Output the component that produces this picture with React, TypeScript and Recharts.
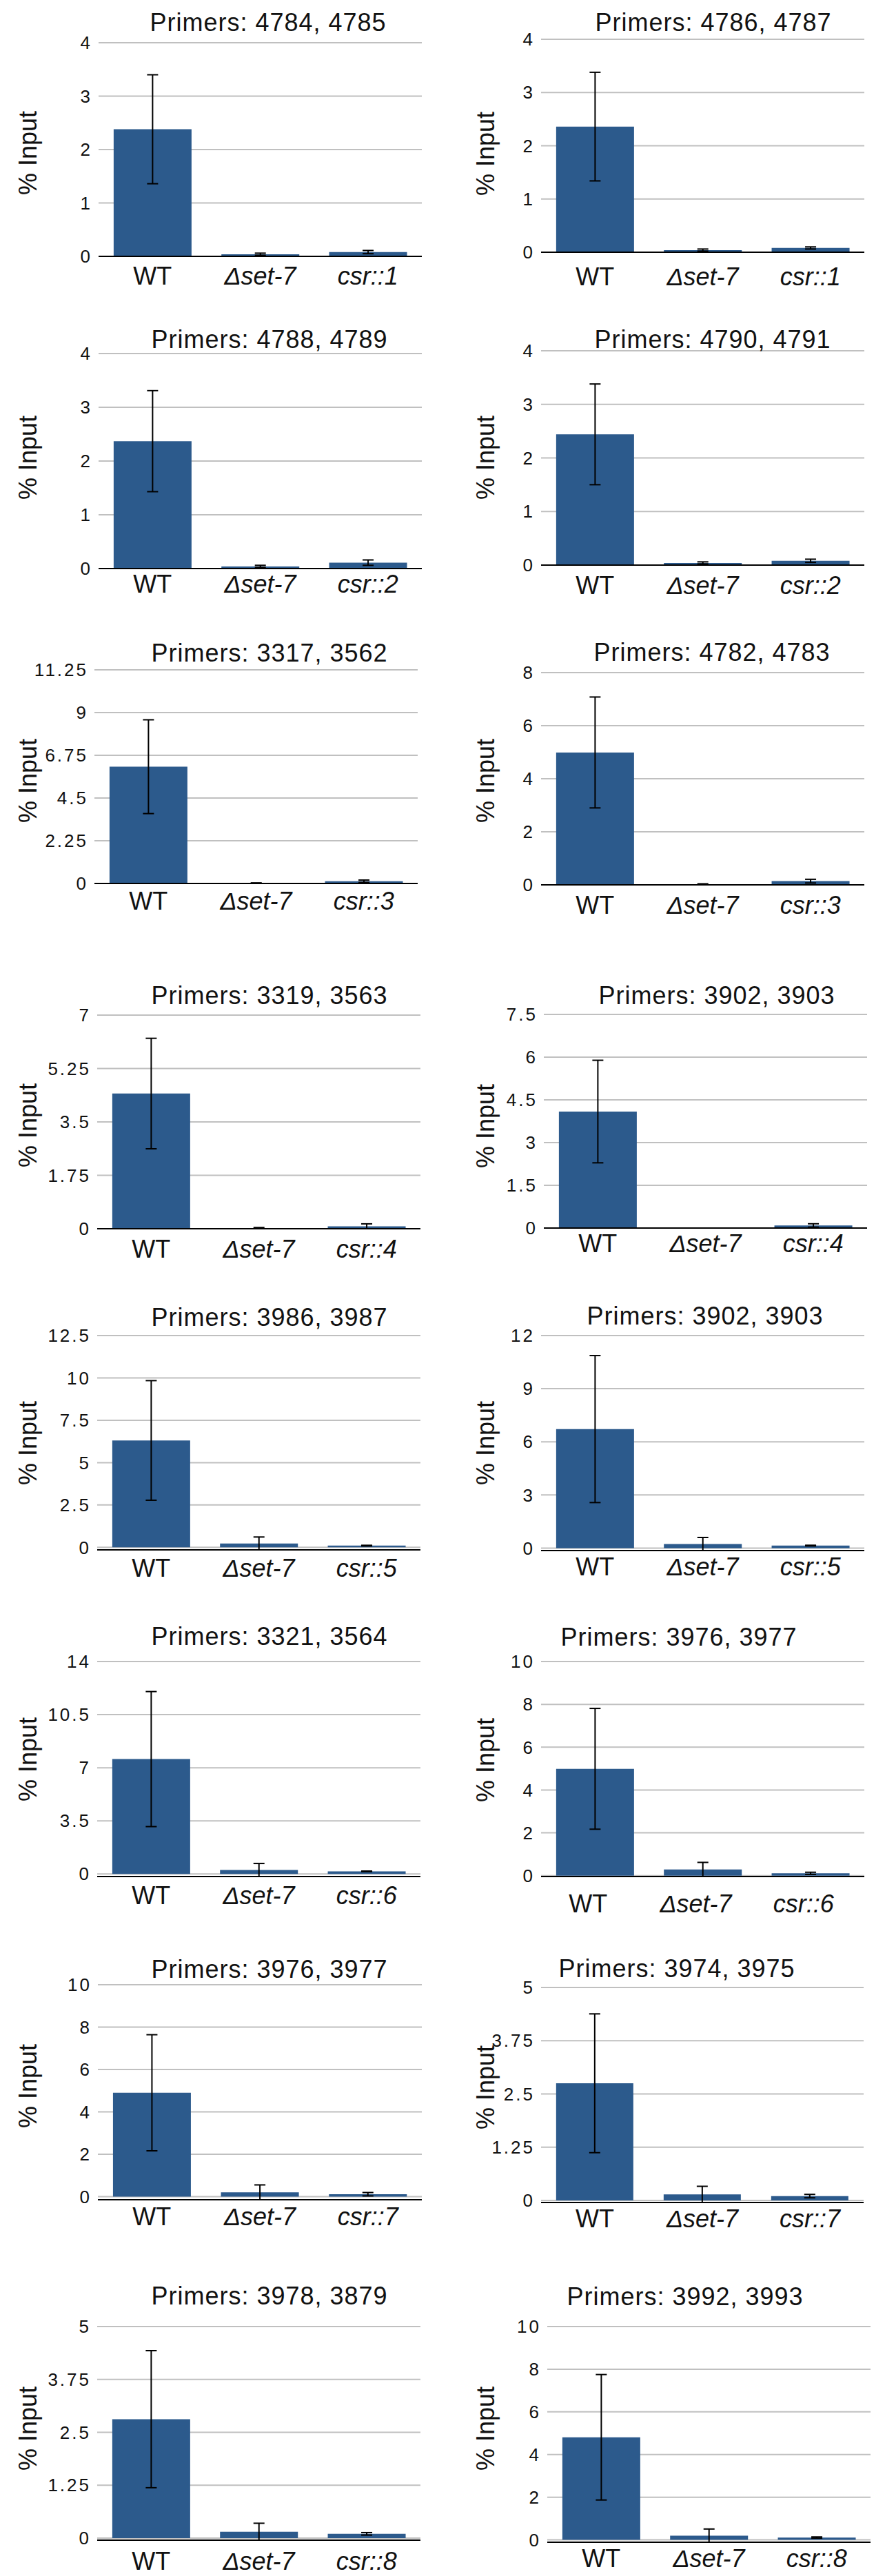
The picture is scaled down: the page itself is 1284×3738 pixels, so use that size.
import React from "react";
import { BarChart, Bar, XAxis, YAxis, CartesianGrid, ErrorBar } from "recharts";

// values, left-to-right, top-to-bottom
const TITLES = [
  "Primers: 4784, 4785", "Primers: 4786, 4787",
  "Primers: 4788, 4789", "Primers: 4790, 4791",
  "Primers: 3317, 3562", "Primers: 4782, 4783",
  "Primers: 3319, 3563", "Primers: 3902, 3903",
  "Primers: 3986, 3987", "Primers: 3902, 3903",
  "Primers: 3321, 3564", "Primers: 3976, 3977",
  "Primers: 3976, 3977", "Primers: 3974, 3975",
  "Primers: 3978, 3879", "Primers: 3992, 3993",
];
const CSR_LABELS = [
  "csr::1", "csr::1", "csr::2", "csr::2", "csr::3", "csr::3", "csr::4", "csr::4",
  "csr::5", "csr::5", "csr::6", "csr::6", "csr::7", "csr::7", "csr::8", "csr::8",
];
const WT = [2.38, 2.36, 2.37, 2.44, 6.15, 4.99, 4.43, 4.09, 6.31, 6.72, 7.57, 4.99, 4.9, 2.75, 2.81, 4.81];
const WT_ERR = [1.02, 1.02, 0.94, 0.94, 2.47, 2.09, 1.81, 1.8, 3.53, 4.15, 4.45, 2.82, 2.74, 1.63, 1.62, 2.94];
const SET7 = [0.04, 0.04, 0.04, 0.04, 0.02, 0.02, 0.02, 0.01, 0.23, 0.23, 0.26, 0.29, 0.2, 0.14, 0.15, 0.2];
const SET7_ERR = [0.02, 0.02, 0.02, 0.02, 0.01, 0.02, 0.02, 0, 0.38, 0.37, 0.43, 0.33, 0.35, 0.19, 0.2, 0.31];
const CSR = [0.08, 0.08, 0.11, 0.08, 0.12, 0.14, 0.08, 0.09, 0.1, 0.14, 0.17, 0.11, 0.11, 0.1, 0.1, 0.11];
const CSR_ERR = [0.03, 0.02, 0.05, 0.03, 0.06, 0.07, 0.08, 0.06, 0.02, 0.02, 0.02, 0.05, 0.08, 0.04, 0.03, 0.03];
const Y_TICKS = [
  [0, 1, 2, 3, 4], [0, 1, 2, 3, 4],
  [0, 1, 2, 3, 4], [0, 1, 2, 3, 4],
  [0, 2.25, 4.5, 6.75, 9, 11.25], [0, 2, 4, 6, 8],
  [0, 1.75, 3.5, 5.25, 7], [0, 1.5, 3, 4.5, 6, 7.5],
  [0, 2.5, 5, 7.5, 10, 12.5], [0, 3, 6, 9, 12],
  [0, 3.5, 7, 10.5, 14], [0, 2, 4, 6, 8, 10],
  [0, 2, 4, 6, 8, 10], [0, 1.25, 2.5, 3.75, 5],
  [0, 1.25, 2.5, 3.75, 5], [0, 2, 4, 6, 8, 10],
];

// where each panel sits on the page
const LAYOUT = [
  { col: 0, x0: 143, x1: 612, yTop: 62, yBase: 372, tx: 389, ty: 32, ly: 222, gap: 15, dx: 0 },
  { col: 642, x0: 785, x1: 1254, yTop: 57, yBase: 366, tx: 1035, ty: 32, ly: 223, gap: 22, dx: 0 },
  { col: 0, x0: 143, x1: 612, yTop: 513, yBase: 825, tx: 391, ty: 492, ly: 664, gap: 9, dx: 0 },
  { col: 642, x0: 785, x1: 1254, yTop: 509, yBase: 820, tx: 1034, ty: 492, ly: 664, gap: 16, dx: 0 },
  { col: 0, x0: 137, x1: 606, yTop: 972, yBase: 1282, tx: 391, ty: 947, ly: 1133, gap: 12, dx: 0 },
  { col: 642, x0: 785, x1: 1254, yTop: 976, yBase: 1284, tx: 1033, ty: 946, ly: 1133, gap: 16, dx: 0 },
  { col: 0, x0: 141, x1: 610, yTop: 1473, yBase: 1783, tx: 391, ty: 1444, ly: 1633, gap: 16, dx: 0 },
  { col: 642, x0: 789, x1: 1258, yTop: 1472, yBase: 1782, tx: 1040, ty: 1444, ly: 1634, gap: 9, dx: 0 },
  { col: 0, x0: 141, x1: 610, yTop: 1938, yBase: 2249, tx: 391, ty: 1911, ly: 2094, gap: 13, dx: 0 },
  { col: 642, x0: 785, x1: 1254, yTop: 1938, yBase: 2250, tx: 1023, ty: 1909, ly: 2094, gap: 10, dx: 0 },
  { col: 0, x0: 141, x1: 610, yTop: 2411, yBase: 2723, tx: 391, ty: 2374, ly: 2553, gap: 14, dx: 0 },
  { col: 642, x0: 785, x1: 1254, yTop: 2411, yBase: 2723, tx: 985, ty: 2375, ly: 2554, gap: 26, dx: -10 },
  { col: 0, x0: 142, x1: 612, yTop: 2880, yBase: 3192, tx: 391, ty: 2857, ly: 3027, gap: 11, dx: 0 },
  { col: 642, x0: 785, x1: 1253, yTop: 2884, yBase: 3196, tx: 982, ty: 2856, ly: 3029, gap: 10, dx: 0 },
  { col: 0, x0: 141, x1: 610, yTop: 3376, yBase: 3686, tx: 391, ty: 3331, ly: 3524, gap: 17, dx: 0 },
  { col: 642, x0: 794, x1: 1263, yTop: 3376, yBase: 3689, tx: 994, ty: 3332, ly: 3524, gap: 10, dx: 0 },
];

const FONT = '"Liberation Sans", Arial, Helvetica, sans-serif';
const BLUE = "#2c5a8c";
const INK = "#111";
const TOP_PAD = 20;
const BOTTOM_PAD = 75;

function Panel({ i }: { i: number }) {
  const L = LAYOUT[i];
  const ticks = Y_TICKS[i];
  const data = [
    { name: "WT", value: WT[i], err: WT_ERR[i] },
    { name: "Δset-7", value: SET7[i], err: SET7_ERR[i] },
    { name: CSR_LABELS[i], value: CSR[i], err: CSR_ERR[i] },
  ];
  const chartTop = L.yTop - TOP_PAD;
  const height = L.yBase - L.yTop + TOP_PAD + BOTTOM_PAD;
  const yLabelX = (L.col === 0 ? 53 : 717) - L.col;
  const yLabelY = L.ly - chartTop;

  return (
    <div style={{ position: "absolute", left: L.col, top: chartTop }}>
      <BarChart
        width={642}
        height={height}
        data={data}
        margin={{ top: TOP_PAD, right: L.col + 642 - L.x1, bottom: BOTTOM_PAD - 40, left: 0 }}
        barCategoryGap="14%"
      >
        <CartesianGrid vertical={false} stroke="#c0c0c0" strokeWidth={2} />
        <XAxis
          dataKey="name"
          height={40}
          tickLine={false}
          axisLine={{ stroke: "#000", strokeWidth: 2 }}
          tickMargin={L.gap - 6}
          interval={0}
          tick={(p: any) => (
            <text
              x={p.x + L.dx}
              y={p.y}
              dy="0.71em"
              textAnchor="middle"
              fontSize={36}
              fontFamily={FONT}
              fontStyle={p.payload.value === "WT" ? "normal" : "italic"}
              fill={INK}
            >
              {p.payload.value}
            </text>
          )}
        />
        <YAxis
          width={L.x0 - L.col}
          domain={[0, ticks[ticks.length - 1]]}
          ticks={ticks}
          interval={0}
          tickLine={false}
          axisLine={false}
          tickMargin={3}
          tick={(p: any) => (
            <text
              x={p.x}
              y={p.y}
              dy="0.355em"
              textAnchor="end"
              fontSize={26}
              letterSpacing={3}
              fontFamily={FONT}
              fill={INK}
            >
              {p.payload.value}
            </text>
          )}
          label={() => (
            <text
              x={yLabelX}
              y={yLabelY}
              transform={`rotate(-90 ${yLabelX} ${yLabelY})`}
              textAnchor="middle"
              fontSize={36}
              fontFamily={FONT}
              fill={INK}
            >
              % Input
            </text>
          )}
        />
        <Bar dataKey="value" fill={BLUE} isAnimationActive={false}>
          <ErrorBar dataKey="err" width={8} strokeWidth={2} stroke="#000" isAnimationActive={false} />
        </Bar>
      </BarChart>
    </div>
  );
}

export default function App() {
  return (
    <div style={{ position: "absolute", left: 0, top: 0, width: 1284, height: 3738, background: "#fff" }}>
      {LAYOUT.map((_, i) => (
        <Panel key={i} i={i} />
      ))}
      <svg
        width={1284}
        height={3738}
        style={{ position: "absolute", left: 0, top: 0, pointerEvents: "none" }}
      >
        {LAYOUT.map((L, i) => (
          <text
            key={i}
            x={L.tx}
            y={L.ty + 13}
            textAnchor="middle"
            fontSize={36}
            letterSpacing={1}
            fontFamily={FONT}
            fill={INK}
          >
            {TITLES[i]}
          </text>
        ))}
      </svg>
    </div>
  );
}
